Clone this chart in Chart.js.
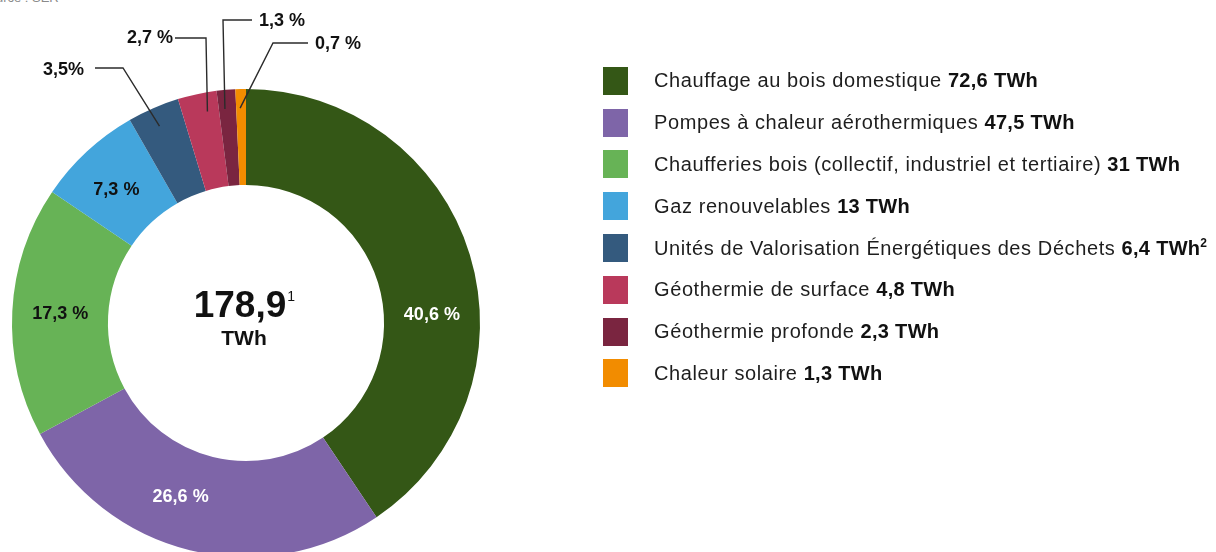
<!DOCTYPE html>
<html lang="fr">
<head>
<meta charset="utf-8">
<title>Chaleur renouvelable</title>
<script src="https://cdn.jsdelivr.net/npm/chart.js@4.4.1/dist/chart.umd.min.js"></script>
<style>
  html, body { margin: 0; padding: 0; background: #fff; width: 1216px; height: 552px; overflow: hidden; }
  #wrap { position: relative; width: 1216px; height: 552px; font-family: "Liberation Sans", Arial, sans-serif; color: #1e1e1e; }
  #chartBox { position: absolute; left: 0; top: 0; width: 1216px; height: 560px; }
  #source { position: absolute; left: -20px; top: -10px; font-size: 13px; color: #8a8a8a; }
  #legend { position: absolute; left: 603px; top: 60px; margin: 0; padding: 0; list-style: none; }
  #legend li { height: 41.8px; display: flex; align-items: center; font-size: 20px; letter-spacing: 0.6px; white-space: nowrap; }
  #legend .sw { width: 25px; height: 28px; margin-right: 26px; flex: none; }
  #legend b { font-weight: 700; color: #111; letter-spacing: 0.3px; }
  #legend sup { font-size: 12px; line-height: 0; vertical-align: 8px; }
</style>
</head>
<body>
<div id="wrap">
  <div id="source">Source : SER</div>
  <div id="chartBox"><canvas id="heatChart"></canvas></div>
  <ul id="legend"></ul>
</div>
<script>
const categories = [
  "Chauffage au bois domestique",
  "Pompes à chaleur aérothermiques",
  "Chaufferies bois (collectif, industriel et tertiaire)",
  "Gaz renouvelables",
  "Unités de Valorisation Énergétiques des Déchets",
  "Géothermie de surface",
  "Géothermie profonde",
  "Chaleur solaire"
];
const valuesTWh = [72.6, 47.5, 31, 13, 6.4, 4.8, 2.3, 1.3];
const pctLabels = ["40,6 %", "26,6 %", "17,3 %", "7,3 %", "3,5%", "2,7 %", "1,3 %", "0,7 %"];
const notes = ["", "", "", "", "2", "", "", ""];
const totalLabel = "178,9";
const totalNote = "1";
const unitLabel = "TWh";

const colors = ["#345716", "#7e65a8", "#67b356", "#43a5dc", "#345a7e", "#b9395b", "#7a2540", "#f28c00"];
const inLabelColor = ["#ffffff", "#ffffff", "#111111", "#111111"];
const inLabelFrac = [0.6, 0.57, 0.5, 0.45];

// callout geometry, relative to the doughnut centre: where on the arc, elbow, line end, text anchor
const callouts = {
  4: { frac: 0.47, elbow: [-123, -255], end: [-151, -255], text: [-162, -253], align: "right" },
  5: { frac: 0.68, elbow: [-40, -285], end: [-71, -285], text: [-73, -285], align: "right" },
  6: { frac: 0.35, elbow: [-23, -303], end: [6, -303], text: [13, -302], align: "left" },
  7: { frac: 0.4, elbow: [27, -280], end: [62, -280], text: [69, -279], align: "left" }
};

const fmt = (v) => String(v).replace(".", ",");

// HTML legend
const legend = document.getElementById("legend");
categories.forEach((c, i) => {
  const li = document.createElement("li");
  li.innerHTML = '<span class="sw" style="background:' + colors[i] + '"></span>' +
    '<span>' + c + ' <b>' + fmt(valuesTWh[i]) + ' TWh' + (notes[i] ? '<sup>' + notes[i] + '</sup>' : '') + '</b></span>';
  legend.appendChild(li);
});

const labelPlugin = {
  id: "donutLabels",
  afterDatasetsDraw(chart) {
    const ctx = chart.ctx;
    const meta = chart.getDatasetMeta(0);
    let cx = 0, cy = 0;
    ctx.save();
    ctx.font = "bold 18px 'Liberation Sans', Arial, sans-serif";
    ctx.textBaseline = "middle";
    meta.data.forEach((arc, i) => {
      const p = arc.getProps(["x", "y", "startAngle", "endAngle", "innerRadius", "outerRadius"], true);
      cx = p.x; cy = p.y;
      if (i < 4) {
        const a = p.startAngle + (p.endAngle - p.startAngle) * inLabelFrac[i];
        const r = (p.innerRadius + p.outerRadius) / 2;
        ctx.fillStyle = inLabelColor[i];
        ctx.textAlign = "center";
        ctx.fillText(pctLabels[i], p.x + Math.cos(a) * r, p.y + Math.sin(a) * r);
      } else {
        const co = callouts[i];
        const a = p.startAngle + (p.endAngle - p.startAngle) * co.frac;
        const r = p.outerRadius - 19;
        ctx.strokeStyle = "#2b2b2b";
        ctx.lineWidth = 1.4;
        ctx.beginPath();
        ctx.moveTo(p.x + Math.cos(a) * r, p.y + Math.sin(a) * r);
        ctx.lineTo(p.x + co.elbow[0], p.y + co.elbow[1]);
        ctx.lineTo(p.x + co.end[0], p.y + co.end[1]);
        ctx.stroke();
        ctx.fillStyle = "#111111";
        ctx.textAlign = co.align;
        ctx.fillText(pctLabels[i], p.x + co.text[0], p.y + co.text[1]);
      }
    });
    // centre total
    ctx.fillStyle = "#111111";
    ctx.textAlign = "center";
    ctx.textBaseline = "alphabetic";
    ctx.font = "bold 37px 'Liberation Sans', Arial, sans-serif";
    const w = ctx.measureText(totalLabel).width;
    ctx.fillText(totalLabel, cx - 6, cy - 6);
    ctx.font = "14px 'Liberation Sans', Arial, sans-serif";
    ctx.textAlign = "left";
    ctx.fillText(totalNote, cx - 6 + w / 2 + 1, cy - 22);
    ctx.font = "bold 21px 'Liberation Sans', Arial, sans-serif";
    ctx.textAlign = "center";
    ctx.fillText(unitLabel, cx - 2, cy + 22);
    ctx.restore();
  }
};

new Chart(document.getElementById("heatChart"), {
  type: "doughnut",
  data: {
    labels: categories,
    datasets: [{
      data: valuesTWh,
      backgroundColor: colors,
      borderWidth: 0,
      hoverOffset: 0
    }]
  },
  options: {
    responsive: true,
    maintainAspectRatio: false,
    animation: false,
    cutout: "59%",
    layout: { padding: { left: 12, top: 89, right: 736, bottom: 3 } },
    plugins: {
      legend: { display: false },
      tooltip: { enabled: false }
    }
  },
  plugins: [labelPlugin]
});
</script>
</body>
</html>
